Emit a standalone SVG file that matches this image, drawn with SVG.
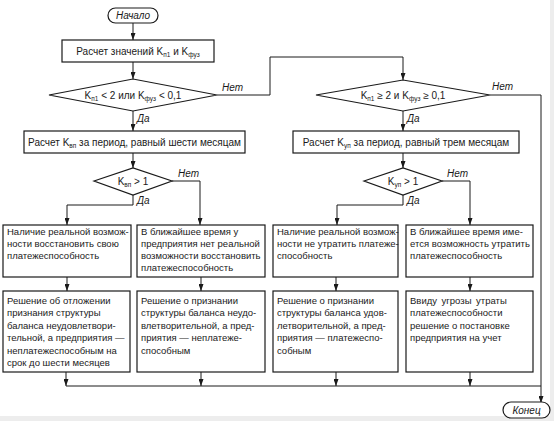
<svg xmlns="http://www.w3.org/2000/svg" width="554" height="421" viewBox="0 0 554 421">
<defs>
<marker id="ah" markerUnits="userSpaceOnUse" markerWidth="7" markerHeight="5" refX="7" refY="2.5" orient="auto"><path d="M0,0 L7,2.5 L0,5 z" fill="#1a1a1a"/></marker>
</defs>
<style>
.b{fill:#fff;stroke:#1a1a1a;stroke-width:1.2}
.t{font-family:"Liberation Sans",Arial,sans-serif;font-size:9.5px;fill:#1a1a1a}
.h{font-family:"Liberation Sans",Arial,sans-serif;font-size:10px;fill:#1a1a1a;text-anchor:middle}
.c{text-anchor:middle}
.l{font-family:"Liberation Sans",Arial,sans-serif;font-size:10px;font-style:italic;fill:#1a1a1a}
.w{fill:none;stroke:#1a1a1a;stroke-width:1}
.a{marker-end:url(#ah)}
.s{font-size:6.5px}
</style>
<rect x="0" y="0" width="554" height="421" fill="#fff"/>
<rect x="550" y="0" width="4" height="421" fill="#ededed"/>
<rect x="0" y="416" width="554" height="5" fill="#ededed"/>

<g id="connectors">
<path class="w a" d="M133,23 V40"/>
<path class="w a" d="M133,62 V79"/>
<path class="w a" d="M217,95 H270 V57 H403 V80"/>
<path class="w a" d="M133,111 V131"/>
<path class="w a" d="M403,111 V131"/>
<path class="w a" d="M490,95 H541 V403"/>
<path class="w a" d="M133,153 V168"/>
<path class="w a" d="M403,153 V168"/>
<path class="w a" d="M172,181 H200 V225"/>
<path class="w a" d="M133,195 V205 H67 V225"/>
<path class="w a" d="M442,181 H470 V225"/>
<path class="w a" d="M403,195 V205 H337 V225"/>
<path class="w a" d="M67,277 V291"/>
<path class="w a" d="M201,277 V291"/>
<path class="w a" d="M336,277 V291"/>
<path class="w a" d="M470,277 V291"/>
<path class="w a" d="M66,372 V386"/>
<path class="w a" d="M201,372 V386"/>
<path class="w a" d="M336,372 V386"/>
<path class="w a" d="M470,372 V386"/>
<path class="w" d="M66,386 H541"/>
<text class="l" x="222" y="91">Нет</text>
<text class="l" x="137" y="122">Да</text>
<text class="l" x="492" y="90">Нет</text>
<text class="l" x="407" y="122">Да</text>
<text class="l" x="178" y="177">Нет</text>
<text class="l" x="137" y="204">Да</text>
<text class="l" x="447" y="177">Нет</text>
<text class="l" x="407" y="204">Да</text>
</g>

<g id="start">
<rect class="b" x="108" y="8" width="50" height="15" rx="7.5"/>
<text class="l c" x="133" y="19">Начало</text>
</g>

<g id="calc1">
<rect class="b" x="62" y="40" width="152" height="22"/>
<text class="h" x="138" y="54.5">Расчет значений K<tspan class="s" dy="2">п1</tspan><tspan dy="-2"> и K</tspan><tspan class="s" dy="2">фуз</tspan></text>
</g>

<g id="cond1">
<polygon class="b" points="49,95 133,79 217,95 133,111"/>
<text class="h" x="133" y="99">K<tspan class="s" dy="2">п1</tspan><tspan dy="-2"> &lt; 2 или K</tspan><tspan class="s" dy="2">фуз</tspan><tspan dy="-2"> &lt; 0,1</tspan></text>
</g>

<g id="cond2">
<polygon class="b" points="316,95 403,80 490,95 403,111"/>
<text class="h" x="403" y="99">K<tspan class="s" dy="2">п1</tspan><tspan dy="-2"> ≥ 2 и K</tspan><tspan class="s" dy="2">фуз</tspan><tspan dy="-2"> ≥ 0,1</tspan></text>
</g>

<g id="calcL">
<rect class="b" x="24" y="131" width="221" height="22"/>
<text class="h" x="134.5" y="145.5">Расчет K<tspan class="s" dy="2">вп</tspan><tspan dy="-2"> за период, равный шести месяцам</tspan></text>
</g>

<g id="calcR">
<rect class="b" x="293" y="131" width="226" height="22"/>
<text class="h" x="406" y="145.5">Расчет K<tspan class="s" dy="2">уп</tspan><tspan dy="-2"> за период, равный трем месяцам</tspan></text>
</g>

<g id="condL">
<polygon class="b" points="94,181 133,168 172,181 133,195"/>
<text class="h" x="133" y="185">K<tspan class="s" dy="2">вп</tspan><tspan dy="-2"> &gt; 1</tspan></text>
</g>

<g id="condR">
<polygon class="b" points="364,181 403,168 442,181 403,195"/>
<text class="h" x="403" y="185">K<tspan class="s" dy="2">уп</tspan><tspan dy="-2"> &gt; 1</tspan></text>
</g>

<g id="boxA">
<rect class="b" x="3" y="225" width="128" height="52"/>
<text class="t" x="7" y="235">Наличие реальной возмож-</text>
<text class="t" x="7" y="247">ности восстановить свою</text>
<text class="t" x="7" y="259">платежеспособность</text>
</g>

<g id="boxB">
<rect class="b" x="137" y="225" width="128" height="52"/>
<text class="t" x="141" y="235">В ближайшее время у</text>
<text class="t" x="141" y="247">предприятия нет реальной</text>
<text class="t" x="141" y="259">возможности восстановить</text>
<text class="t" x="141" y="271">платежеспособность</text>
</g>

<g id="boxC">
<rect class="b" x="273" y="225" width="125" height="52"/>
<text class="t" x="277" y="235">Наличие реальной возмож-</text>
<text class="t" x="277" y="247">ности не утратить платеже-</text>
<text class="t" x="277" y="259">способность</text>
</g>

<g id="boxD">
<rect class="b" x="406" y="225" width="127" height="52"/>
<text class="t" x="410" y="235">В ближайшее время име-</text>
<text class="t" x="410" y="247">ется возможность утратить</text>
<text class="t" x="410" y="259">платежеспособность</text>
</g>

<g id="boxA2">
<rect class="b" x="3" y="291" width="127" height="81"/>
<text class="t" x="7" y="303.5">Решение об отложении</text>
<text class="t" x="7" y="316">признания структуры</text>
<text class="t" x="7" y="328.5">баланса неудовлетвори-</text>
<text class="t" x="7" y="341">тельной, а предприятия —</text>
<text class="t" x="7" y="353.5">неплатежеспособным на</text>
<text class="t" x="7" y="366">срок до шести месяцев</text>
</g>

<g id="boxB2">
<rect class="b" x="137" y="291" width="128" height="81"/>
<text class="t" x="141" y="303.5">Решение о признании</text>
<text class="t" x="141" y="316">структуры баланса неудо-</text>
<text class="t" x="141" y="328.5">влетворительной, а пред-</text>
<text class="t" x="141" y="341">приятия — неплатеже-</text>
<text class="t" x="141" y="353.5">способным</text>
</g>

<g id="boxC2">
<rect class="b" x="273" y="291" width="125" height="81"/>
<text class="t" x="277" y="303.5">Решение о признании</text>
<text class="t" x="277" y="316">структуры баланса удов-</text>
<text class="t" x="277" y="328.5">летворительной, а пред-</text>
<text class="t" x="277" y="341">приятия — платежеспо-</text>
<text class="t" x="277" y="353.5">собным</text>
</g>

<g id="boxD2">
<rect class="b" x="406" y="291" width="127" height="81"/>
<text class="t" x="410" y="303.5" word-spacing="2">Ввиду угрозы утраты</text>
<text class="t" x="410" y="316">платежеспособности</text>
<text class="t" x="410" y="328.5">решение о постановке</text>
<text class="t" x="410" y="341">предприятия на учет</text>
</g>

<g id="end">
<rect class="b" x="503" y="402" width="47" height="16" rx="8"/>
<text class="l c" x="526.5" y="413.5">Конец</text>
</g>
</svg>
